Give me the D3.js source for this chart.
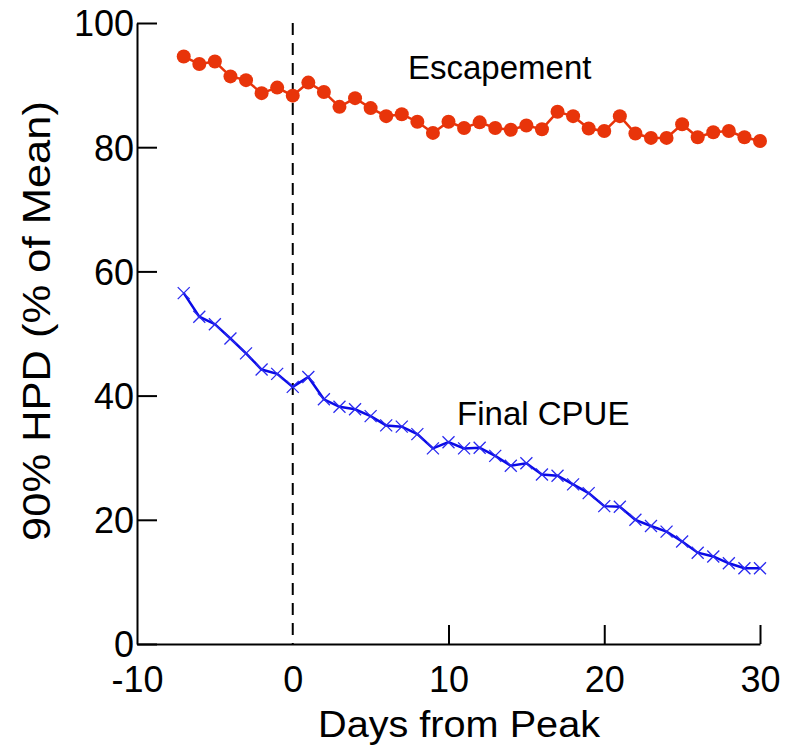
<!DOCTYPE html>
<html>
<head>
<meta charset="utf-8">
<script src="https://cdn.jsdelivr.net/npm/d3@7"></script>
<style>
  body { margin: 0; background: #fff; }
  text { font-family: "Liberation Sans", Arial, sans-serif; fill: #000; }
</style>
</head>
<body>
<div id="chart"></div>
<script>
// days from peak, shared by both series
const days = d3.range(-7, 31);

const escapement = [94.6, 93.4, 93.8, 91.4, 90.8, 88.7, 89.6, 88.3, 90.4, 88.9,
  86.5, 87.9, 86.3, 85.0, 85.3, 84.1, 82.3, 84.1, 83.1, 84.0,
  83.1, 82.8, 83.5, 82.9, 85.7, 85.0, 83.0, 82.6, 85.0, 82.2,
  81.5, 81.5, 83.7, 81.6, 82.4, 82.6, 81.6, 81.0];

const finalCpue = [56.5, 52.7, 51.5, 49.2, 46.8, 44.2, 43.5, 41.4, 43.0, 39.4,
  38.2, 37.8, 36.7, 35.2, 35.0, 33.8, 31.5, 32.5, 31.5, 31.6,
  30.3, 28.7, 29.1, 27.3, 27.1, 25.7, 24.3, 22.2, 22.1, 20.0,
  19.0, 18.1, 16.5, 14.7, 14.1, 13.0, 12.2, 12.2];

const xTicks = [-10, 0, 10, 20, 30];
const yTicks = [0, 20, 40, 60, 80, 100];

const width = 789, height = 752;
const margin = {top: 23, right: 29, bottom: 108, left: 137};

const svg = d3.select("#chart").append("svg")
    .attr("width", width)
    .attr("height", height);

const x = d3.scaleLinear().domain([-10, 30]).range([margin.left, width - margin.right]);
const y = d3.scaleLinear().domain([0, 100]).range([height - margin.bottom, margin.top]);

const plainFmt = d => String(d); // plain hyphen, as in the original

// axes: ticks point inward, like the original plot
const yAxis = svg.append("g")
    .attr("transform", `translate(${x(-10)},0)`)
    .call(d3.axisLeft(y).tickValues(yTicks).tickFormat(plainFmt)
        .tickSizeInner(-20).tickSizeOuter(0).tickPadding(26));

const xAxis = svg.append("g")
    .attr("transform", `translate(0,${y(0)})`)
    .call(d3.axisBottom(x).tickValues(xTicks).tickFormat(plainFmt)
        .tickSizeInner(-19).tickSizeOuter(0).tickPadding(22));

[xAxis, yAxis].forEach(a => {
    a.select(".domain").attr("stroke", "#000").attr("stroke-width", 2);
    a.selectAll(".tick line").attr("stroke", "#000").attr("stroke-width", 2);
    a.selectAll(".tick text")
        .style("font-size", "36px")
        .attr("fill", "#000");
});
yAxis.selectAll(".tick text").attr("x", -3).attr("dy", "0.36em");
// the y axis itself stands for -10 and the dashed line for 0
xAxis.selectAll(".tick line").filter(d => d <= 0).remove();
xAxis.selectAll(".tick text").attr("dy", "0.71em");

// peak day marker
svg.append("line")
    .attr("x1", x(0)).attr("x2", x(0))
    .attr("y1", y(100)).attr("y2", y(0))
    .attr("stroke", "#000")
    .attr("stroke-width", 2)
    .attr("stroke-dasharray", "12,8");

const escData = days.map((d, i) => ({day: d, value: escapement[i]}));
const cpueData = days.map((d, i) => ({day: d, value: finalCpue[i]}));

const line = d3.line().x(d => x(d.day)).y(d => y(d.value));

svg.append("path")
    .datum(escData)
    .attr("d", line)
    .attr("fill", "none")
    .attr("stroke", "#e8340a")
    .attr("stroke-width", 2.5);

svg.selectAll(".escDot")
    .data(escData)
    .enter().append("circle")
    .attr("class", "escDot")
    .attr("cx", d => x(d.day))
    .attr("cy", d => y(d.value))
    .attr("r", 7)
    .attr("fill", "#e8340a");

svg.append("path")
    .datum(cpueData)
    .attr("d", line)
    .attr("fill", "none")
    .attr("stroke", "#0a0ae6")
    .attr("stroke-width", 2.5);

const s = 6;
svg.selectAll(".cpueX")
    .data(cpueData)
    .enter().append("path")
    .attr("class", "cpueX")
    .attr("d", d => {
        const cx = x(d.day), cy = y(d.value);
        return `M${cx - s},${cy - s}L${cx + s},${cy + s}M${cx - s},${cy + s}L${cx + s},${cy - s}`;
    })
    .attr("stroke", "#2a2af0")
    .attr("stroke-width", 1.3)
    .attr("fill", "none");

// series labels
svg.append("text")
    .attr("x", x(7.4)).attr("y", y(91))
    .style("font-size", "33px")
    .text("Escapement");

svg.append("text")
    .attr("x", x(10.55)).attr("y", y(35.3))
    .style("font-size", "33px")
    .text("Final CPUE");

// axis titles
svg.append("text")
    .attr("x", 459).attr("y", 737)
    .attr("text-anchor", "middle")
    .attr("textLength", 282)
    .attr("lengthAdjust", "spacingAndGlyphs")
    .style("font-size", "36px")
    .text("Days from Peak");

svg.append("text")
    .attr("transform", "translate(50,321) rotate(-90)")
    .attr("text-anchor", "middle")
    .attr("textLength", 440)
    .attr("lengthAdjust", "spacingAndGlyphs")
    .style("font-size", "38px")
    .text("90% HPD (% of Mean)");
</script>
</body>
</html>
